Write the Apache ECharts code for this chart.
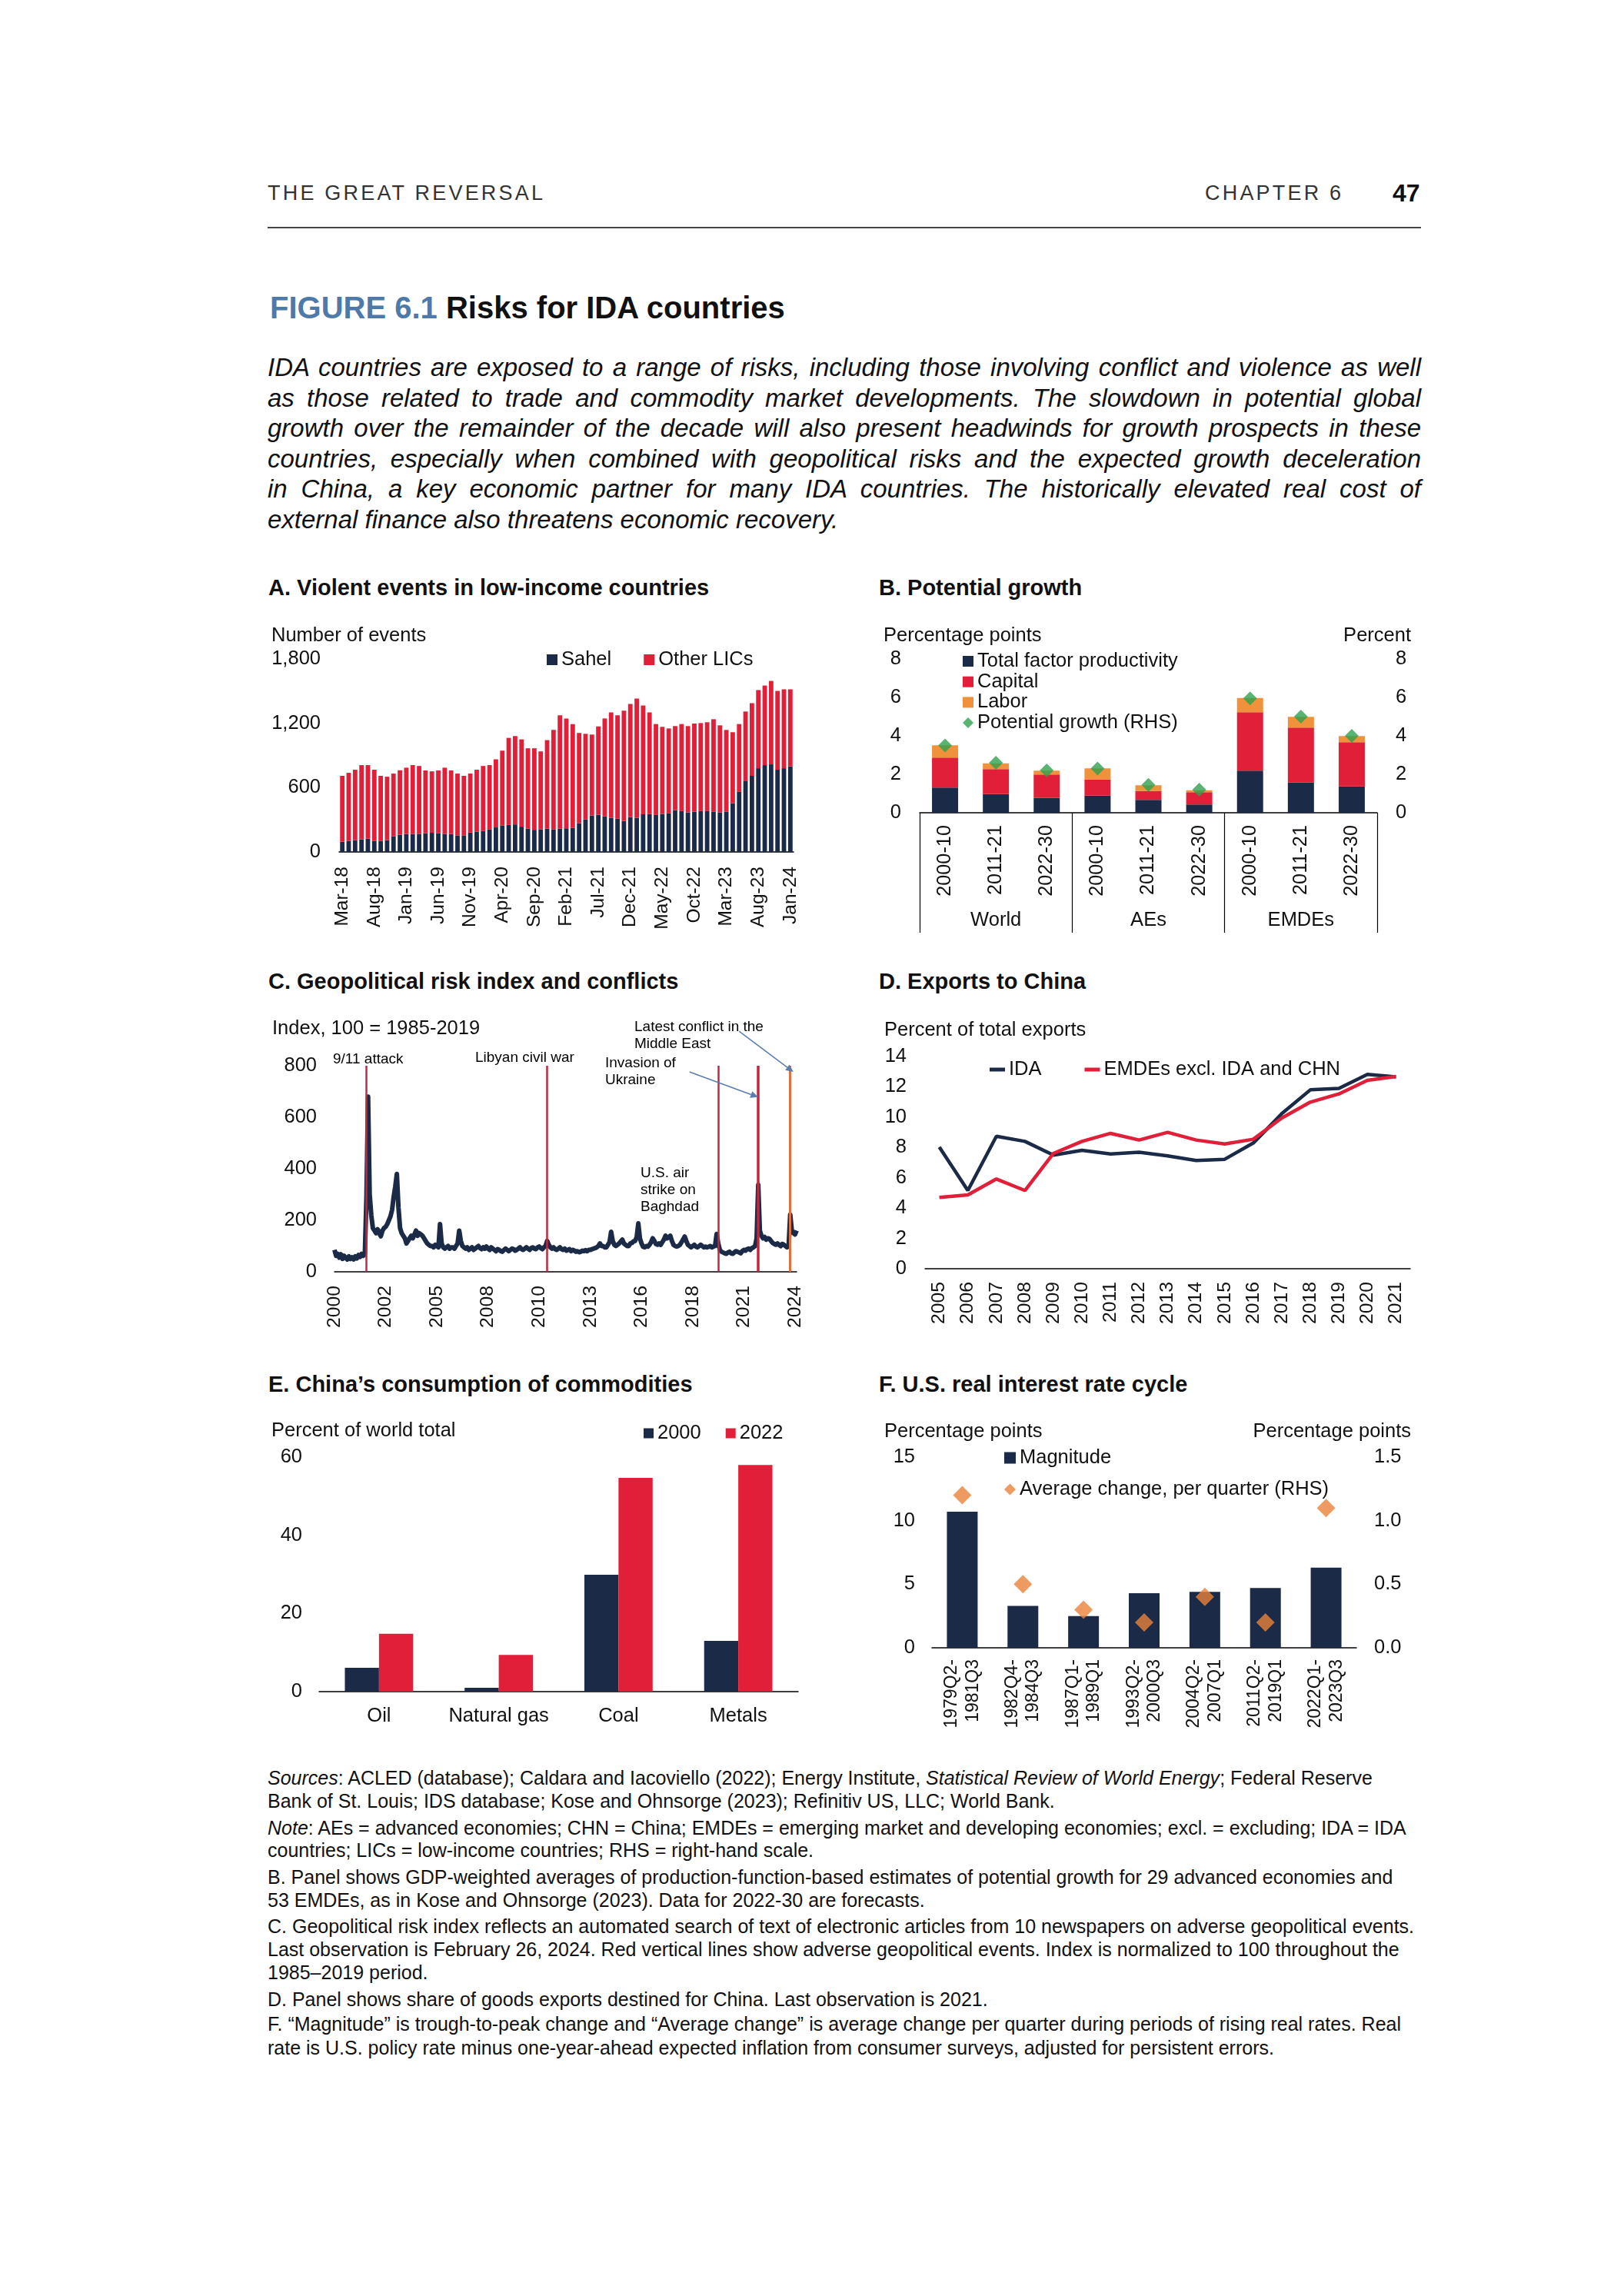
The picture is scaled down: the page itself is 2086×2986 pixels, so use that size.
<!DOCTYPE html>
<html><head><meta charset="utf-8">
<script src="https://cdn.jsdelivr.net/npm/echarts/dist/echarts.min.js"></script>
<style>
html,body{margin:0;padding:0;background:#fff;}
body{width:2086px;height:2986px;position:relative;overflow:hidden;font-family:'Liberation Sans',Arial,sans-serif;color:#111;}
.abs{position:absolute;white-space:nowrap;}
.hdr{font-size:27px;letter-spacing:3.2px;color:#333;line-height:30px;}
.ttl{font-size:40px;font-weight:bold;line-height:48px;}
.para{position:absolute;left:348px;top:458px;width:1500px;font-style:italic;font-size:33px;line-height:39.6px;color:#111;}
.para div{text-align:justify;text-align-last:justify;}
.para div.last{text-align-last:left;}
.ptitle{font-size:29px;font-weight:bold;line-height:34px;}
.note{font-size:25px;line-height:30px;color:#111;left:348px;}
.chart{position:absolute;}
</style></head><body>
<div class="abs hdr" style="left:348px;top:236px;">THE GREAT REVERSAL</div>
<div class="abs hdr" style="left:1567px;top:236px;">CHAPTER 6</div>
<div class="abs" style="left:1811px;top:235px;font-size:32px;font-weight:bold;line-height:32px;">47</div>
<div class="abs" style="left:348px;top:295px;width:1500px;height:2px;background:#444;"></div>
<div class="abs ttl" style="left:351px;top:376px;"><span style="color:#4D7AA8">FIGURE 6.1</span> Risks for IDA countries</div>
<div class="para">
<div>IDA countries are exposed to a range of risks, including those involving conflict and violence as well</div>
<div>as those related to trade and commodity market developments. The slowdown in potential global</div>
<div>growth over the remainder of the decade will also present headwinds for growth prospects in these</div>
<div>countries, especially when combined with geopolitical risks and the expected growth deceleration</div>
<div>in China, a key economic partner for many IDA countries. The historically elevated real cost of</div>
<div class="last">external finance also threatens economic recovery.</div>
</div>
<div class="abs ptitle" style="left:349px;top:747px;">A. Violent events in low-income countries</div>
<div class="abs ptitle" style="left:1143px;top:747px;">B. Potential growth</div>
<div class="abs ptitle" style="left:349px;top:1259px;">C. Geopolitical risk index and conflicts</div>
<div class="abs ptitle" style="left:1143px;top:1259px;">D. Exports to China</div>
<div class="abs ptitle" style="left:349px;top:1783px;">E. China’s consumption of commodities</div>
<div class="abs ptitle" style="left:1143px;top:1783px;">F. U.S. real interest rate cycle</div>

<div id="cA" class="chart" style="left:343px;top:800px;width:700px;height:430px;"></div>
<div id="cB" class="chart" style="left:1133px;top:800px;width:720px;height:430px;"></div>
<div id="cC" class="chart" style="left:343px;top:1300px;width:720px;height:440px;"></div>
<div id="cD" class="chart" style="left:1133px;top:1300px;width:720px;height:440px;"></div>
<div id="cE" class="chart" style="left:343px;top:1820px;width:720px;height:440px;"></div>
<div id="cF" class="chart" style="left:1133px;top:1820px;width:720px;height:440px;"></div>

<div class="abs note" style="top:2297px;"><i>Sources</i>: ACLED (database); Caldara and Iacoviello (2022); Energy Institute, <i>Statistical Review of World Energy</i>; Federal Reserve</div>
<div class="abs note" style="top:2327px;">Bank of St. Louis; IDS database; Kose and Ohnsorge (2023); Refinitiv US, LLC; World Bank.</div>
<div class="abs note" style="top:2362px;"><i>Note</i>: AEs = advanced economies; CHN = China; EMDEs = emerging market and developing economies; excl. = excluding; IDA = IDA</div>
<div class="abs note" style="top:2391px;">countries; LICs = low-income countries; RHS = right-hand scale.</div>
<div class="abs note" style="top:2426px;">B. Panel shows GDP-weighted averages of production-function-based estimates of potential growth for 29 advanced economies and</div>
<div class="abs note" style="top:2456px;">53 EMDEs, as in Kose and Ohnsorge (2023). Data for 2022-30 are forecasts.</div>
<div class="abs note" style="top:2490px;">C. Geopolitical risk index reflects an automated search of text of electronic articles from 10 newspapers on adverse geopolitical events.</div>
<div class="abs note" style="top:2520px;">Last observation is February 26, 2024. Red vertical lines show adverse geopolitical events. Index is normalized to 100 throughout the</div>
<div class="abs note" style="top:2550px;">1985–2019 period.</div>
<div class="abs note" style="top:2585px;">D. Panel shows share of goods exports destined for China. Last observation is 2021.</div>
<div class="abs note" style="top:2617px;">F. “Magnitude” is trough-to-peak change and “Average change” is average change per quarter during periods of rising real rates. Real</div>
<div class="abs note" style="top:2648px;">rate is U.S. policy rate minus one-year-ahead expected inflation from consumer surveys, adjusted for persistent errors.</div>

<script>
// ---------------- DATA ----------------
// Panel A
const monthsA = ['Mar-18','Apr-18','May-18','Jun-18','Jul-18','Aug-18','Sep-18','Oct-18','Nov-18','Dec-18',
 'Jan-19','Feb-19','Mar-19','Apr-19','May-19','Jun-19','Jul-19','Aug-19','Sep-19','Oct-19','Nov-19','Dec-19',
 'Jan-20','Feb-20','Mar-20','Apr-20','May-20','Jun-20','Jul-20','Aug-20','Sep-20','Oct-20','Nov-20','Dec-20',
 'Jan-21','Feb-21','Mar-21','Apr-21','May-21','Jun-21','Jul-21','Aug-21','Sep-21','Oct-21','Nov-21','Dec-21',
 'Jan-22','Feb-22','Mar-22','Apr-22','May-22','Jun-22','Jul-22','Aug-22','Sep-22','Oct-22','Nov-22','Dec-22',
 'Jan-23','Feb-23','Mar-23','Apr-23','May-23','Jun-23','Jul-23','Aug-23','Sep-23','Oct-23','Nov-23','Dec-23','Jan-24'];
const sahel = [95,102,110,117,124,102,102,110,145,160,167,167,169,174,179,174,169,167,155,155,
 181,188,195,212,229,245,252,257,236,217,207,212,217,212,217,221,224,269,305,340,
 348,333,319,310,288,326,319,352,355,345,355,360,390,381,369,376,381,381,374,369,
 374,455,560,660,710,781,810,817,767,781,798];
const otherLICs = [615,636,657,693,686,665,608,592,586,602,619,643,633,586,573,586,617,593,576,555,
 550,579,607,598,635,700,812,824,814,750,760,726,826,926,1057,1024,969,841,797,755,
 823,912,983,964,1029,1055,1112,1015,947,848,812,792,784,812,805,822,821,829,864,812,
 764,662,633,650,678,729,742,778,735,736,719];
const ticksA = [0, 600, 1200, 1800];

// Panel B
const periodsB = ['2000-10','2011-21','2022-30','2000-10','2011-21','2022-30','2000-10','2011-21','2022-30'];
const groupsB = ['World','AEs','EMDEs'];
const tfp = [1.31,0.97,0.77,0.89,0.67,0.43,2.19,1.57,1.37];
const capital = [1.56,1.30,1.22,0.84,0.46,0.64,3.04,2.86,2.30];
const labor = [0.64,0.30,0.20,0.58,0.30,0.10,0.74,0.56,0.32];
const potential = [3.5,2.6,2.2,2.3,1.45,1.2,5.95,5.0,4.0];

// Panel C (monthly, Jan 2000 - Feb 2024)
const monthsC = [];
for (let y = 2000; y <= 2024; y++) for (let m = 1; m <= 12; m++) { if (y === 2024 && m > 2) break; monthsC.push(y + '-' + String(m).padStart(2, '0')); }
const gpr = [85,62,70,55,68,50,62,55,48,60,50,56,48,60,52,65,58,70,62,72,
 290,680,300,220,170,160,150,165,150,138,160,170,175,185,200,
 215,240,290,330,380,250,170,
 150,140,130,110,120,130,140,130,145,
 160,140,150,145,140,130,120,110,105,100,100,95,105,100,95,
 185,110,
 95,90,95,100,90,95,95,90,100,110,
 160,120,
 100,95,90,95,85,90,95,85,90,95,100,92,88,95,90,98,
 90,85,95,90,85,80,88,85,80,78,85,90,85,80,85,90,88,82,85,90,95,88,85,90,95,90,85,92,95,90,88,95,98,92,88,95,100,
 120,
 105,95,90,95,88,85,90,95,88,85,90,82,85,88,80,85,
 82,78,80,76,78,82,80,84,80,85,85,88,90,92,95,100,
 110,100,100,95,95,105,115,155,120,105,100,105,110,118,125,110,105,100,100,110,112,118,120,135,
 188,130,110,
 97,95,100,98,105,115,130,120,108,105,110,105,115,125,140,130,135,140,120,105,100,98,100,105,115,125,137,120,105,100,95,100,105,98,95,100,105,100,95,98,95,97,100,95,98,100,
 147,110,
 85,78,75,72,70,75,78,72,70,75,80,78,75,72,80,85,82,
 88,90,85,92,95,100,
 130,337,160,140,
 130,135,125,130,128,120,
 112,108,105,110,105,100,108,105,100,95,100,
 222,160,150,145,160];
const events = [
 {date:'2001-09', name:'9/11 attack'},
 {date:'2011-02', name:'Libyan civil war'},
 {date:'2020-01', name:'U.S. air strike on Baghdad'},
 {date:'2022-02', name:'Invasion of Ukraine'},
 {date:'2023-10', name:'Latest conflict in the Middle East'}];
// annotation arrows: [from, to] in data space (month, index value)
const arrowsC = [[['2018-07',776],['2022-02',678]], [['2021-02',934],['2023-12',776]]];

// Panel D
const yearsD = ['2005','2006','2007','2008','2009','2010','2011','2012','2013','2014','2015','2016','2017','2018','2019','2020','2021'];
const idaExp = [8.03,5.16,8.74,8.40,7.49,7.81,7.57,7.68,7.44,7.14,7.22,8.29,10.23,11.80,11.89,12.82,12.65];
const emdeExp = [4.70,4.87,5.92,5.16,7.61,8.40,8.93,8.49,9.00,8.49,8.23,8.54,9.94,10.99,11.53,12.43,12.68];

// Panel E
const commodities = ['Oil','Natural gas','Coal','Metals'];
const share2000 = [6.1,1.0,29.9,13.0];
const share2022 = [14.8,9.4,54.7,58.0];

// Panel F
const cyclesF = ['1979Q2-\n1981Q3','1982Q4-\n1984Q3','1987Q1-\n1989Q1','1993Q2-\n2000Q3','2004Q2-\n2007Q1','2011Q2-\n2019Q1','2022Q1-\n2023Q3'];
const magnitude = [10.7,3.3,2.5,4.3,4.4,4.7,6.3];
const avgChange = [1.2,0.5,0.3,0.2,0.4,0.2,1.1];

// ---------------- STYLE ----------------
const FONT = "'Liberation Sans', Arial, sans-serif";
const NAVY = '#1B2A47', RED = '#E11F38', ORANGE = '#F0923B', GREEN = '#2FA04F', ORANGE2 = '#E9823A';
const TXT = '#111';
const FS = 25.5;
const axisLineBlack = {show:true, lineStyle:{color:'#000', width:1.5}};
function yAx(extra){ return Object.assign({type:'value', splitLine:{show:false}, axisLine:{show:false}, axisTick:{show:false},
  axisLabel:{fontSize:FS, color:TXT, fontFamily:FONT}}, extra); }
function txt(left, top, text, extra){ return Object.assign({type:'text', left:left, top:top, style:{text:text, fontSize:FS, fill:TXT, fontFamily:FONT}}, extra||{}); }
function mk(id, opt){ const c = echarts.init(document.getElementById(id), null, {renderer:'canvas'}); opt.animation = false; opt.textStyle = {fontFamily:FONT}; c.setOption(opt); return c; }

// ---------------- A ----------------
mk('cA', {
 grid:{left:98, top:57, width:591, height:251, outerBoundsMode:'none'},
 legend:{left:363, top:40, itemWidth:14, itemHeight:14, itemGap:42, textStyle:{fontSize:FS, color:TXT},
   data:[{name:'Sahel', icon:'rect'},{name:'Other LICs', icon:'rect'}]},
 xAxis:{type:'category', data:monthsA, axisLine:axisLineBlack, axisTick:{show:false},
   axisLabel:{rotate:90, interval:4, margin:19, fontSize:24.5, color:TXT}},
 yAxis:yAx({min:ticksA[0], max:ticksA[ticksA.length-1], interval:600,
   axisLabel:{fontSize:FS, color:TXT, margin:24, formatter:v=>String(v).replace(/\B(?=(\d{3})+(?!\d))/g, ',')}}),
 series:[
  {name:'Sahel', type:'bar', stack:'a', data:sahel, barWidth:'70%', itemStyle:{color:NAVY}},
  {name:'Other LICs', type:'bar', stack:'a', data:otherLICs, itemStyle:{color:RED}}],
 graphic:[txt(10, 14, 'Number of events')]
});

// ---------------- B ----------------
mk('cB', {
 grid:{left:63, top:57, width:595, height:200, outerBoundsMode:'none'},
 legend:{orient:'vertical', left:114, top:42, itemWidth:14, itemHeight:14, itemGap:0.7,
   textStyle:{fontSize:FS, color:TXT, lineHeight:26},
   data:[{name:'Total factor productivity', icon:'rect'},{name:'Capital', icon:'rect'},{name:'Labor', icon:'rect'},{name:'Potential growth (RHS)', icon:'diamond'}]},
 xAxis:[
  {type:'category', data:periodsB, position:'bottom', axisLine:axisLineBlack, axisTick:{show:false},
   axisLabel:{rotate:90, interval:0, margin:16, fontSize:25.3, color:TXT}},
  {type:'category', data:groupsB, position:'bottom', axisLine:{show:false},
   axisTick:{show:true, length:156, lineStyle:{color:'#000', width:1.2}},
   axisLabel:{interval:0, margin:127, fontSize:FS, color:TXT}}],
 yAxis:[yAx({min:0, max:8, interval:2, position:'left', axisLabel:{fontSize:FS, color:TXT, margin:24}}),
        yAx({min:0, max:8, interval:2, position:'right', axisLabel:{fontSize:FS, color:TXT, margin:24}})],
 series:[
  {name:'Total factor productivity', type:'bar', stack:'b', data:tfp, barWidth:34, itemStyle:{color:NAVY}},
  {name:'Capital', type:'bar', stack:'b', data:capital, itemStyle:{color:RED}},
  {name:'Labor', type:'bar', stack:'b', data:labor, itemStyle:{color:ORANGE}},
  {name:'Potential growth (RHS)', type:'scatter', yAxisIndex:1, data:potential, symbol:'diamond', symbolSize:18, itemStyle:{color:GREEN}, z:5}],
 graphic:[txt(16, 14, 'Percentage points'), txt(null, 14, 'Percent', {right:18})]
});

// ---------------- C ----------------
const evColors = ['#C0283E','#C0283E','#C0283E','#C0283E','#E0703C'];
const evWidths = [2.5,2.5,2.5,3.5,3];
const annFont = {fontSize:19, lineHeight:22, fill:'#000', fontFamily:FONT};
const chartC = mk('cC', {
 grid:{left:92, top:86, width:601, height:268, outerBoundsMode:'none'},
 xAxis:{type:'category', data:monthsC, boundaryGap:false, axisLine:axisLineBlack, axisTick:{show:false},
   axisLabel:{rotate:90, interval:31, margin:18, fontSize:24.7, color:TXT, formatter:v=>v.slice(0,4)}},
 yAxis:yAx({min:0, max:800, interval:200, axisLabel:{fontSize:FS, color:TXT, margin:23}}),
 series:[
  {type:'line', data:gpr, symbol:'none', lineStyle:{color:NAVY, width:6, join:'round'}, itemStyle:{color:NAVY}, z:3,
   markLine:{silent:true, symbol:['none','none'], label:{show:false}, animation:false,
     data: events.map((e,i)=>({xAxis:e.date, lineStyle:{color:evColors[i], width:evWidths[i], type:'solid'}}))}}]
});
// annotations + arrows positioned through the chart's own scales
(function(){
  const els = [
    txt(11, 25, 'Index, 100 = 1985-2019'),
    {type:'text', left:90, top:67, style:Object.assign({text:'9/11 attack'}, annFont)},
    {type:'text', left:275, top:65, style:Object.assign({text:'Libyan civil war'}, annFont)},
    {type:'text', left:482, top:25, style:Object.assign({text:'Latest conflict in the\nMiddle East'}, annFont)},
    {type:'text', left:444, top:72, style:Object.assign({text:'Invasion of\nUkraine'}, annFont)},
    {type:'text', left:490, top:215, style:Object.assign({text:'U.S. air\nstrike on\nBaghdad'}, annFont)}];
  arrowsC.forEach(function(a){
    const p1 = chartC.convertToPixel({gridIndex:0}, a[0]);
    const p2 = chartC.convertToPixel({gridIndex:0}, a[1]);
    const dx = p2[0]-p1[0], dy = p2[1]-p1[1], L = Math.sqrt(dx*dx+dy*dy), ux = dx/L, uy = dy/L;
    const hl = 10, hw = 4.5;
    const bx = p2[0]-ux*hl, by = p2[1]-uy*hl;
    els.push({type:'line', shape:{x1:p1[0], y1:p1[1], x2:bx, y2:by}, style:{stroke:'#5B7DB1', lineWidth:1.6}, z:10});
    els.push({type:'polygon', shape:{points:[[p2[0],p2[1]],[bx-uy*hw, by+ux*hw],[bx+uy*hw, by-ux*hw]]}, style:{fill:'#5B7DB1'}, z:10});
  });
  chartC.setOption({graphic: els});
})();

// ---------------- D ----------------
mk('cD', {
 grid:{left:70, top:74, width:631, height:276, outerBoundsMode:'none'},
 legend:{left:149, top:73, itemWidth:20, itemHeight:5, itemGap:56, textStyle:{fontSize:FS, color:TXT},
   data:[{name:'IDA', icon:'rect'},{name:'EMDEs excl. IDA and CHN', icon:'rect'}]},
 xAxis:{type:'category', data:yearsD, axisLine:axisLineBlack, axisTick:{show:false},
   axisLabel:{rotate:90, interval:0, margin:17, fontSize:24.7, color:TXT}},
 yAxis:yAx({min:0, max:14, interval:2, axisLabel:{fontSize:FS, color:TXT, margin:24}}),
 series:[
  {name:'IDA', type:'line', data:idaExp, symbol:'none', lineStyle:{color:NAVY, width:4.5}, itemStyle:{color:NAVY}},
  {name:'EMDEs excl. IDA and CHN', type:'line', data:emdeExp, symbol:'none', lineStyle:{color:RED, width:4.5}, itemStyle:{color:RED}}],
 graphic:[txt(17, 27, 'Percent of total exports')]
});

// ---------------- E ----------------
mk('cE', {
 grid:{left:72, top:75, width:623, height:305, outerBoundsMode:'none'},
 legend:{left:489, top:26, itemWidth:13, itemHeight:13, itemGap:32, textStyle:{fontSize:FS, color:TXT},
   data:[{name:'2000', icon:'rect'},{name:'2022', icon:'rect'}]},
 xAxis:{type:'category', data:commodities, axisLine:axisLineBlack, axisTick:{show:false},
   axisLabel:{interval:0, margin:19, fontSize:FS, color:TXT}},
 yAxis:yAx({min:0, max:60, interval:20, axisLabel:{fontSize:FS, color:TXT, margin:22}}),
 series:[
  {name:'2000', type:'bar', data:share2000, barGap:'0%', barCategoryGap:'43%', itemStyle:{color:NAVY}},
  {name:'2022', type:'bar', data:share2022, itemStyle:{color:RED}}],
 graphic:[txt(10, 28, 'Percent of world total')]
});

// ---------------- F ----------------
mk('cF', {
 grid:{left:79, top:75, width:552, height:248, outerBoundsMode:'none'},
 legend:{orient:'vertical', left:168, top:58, itemWidth:15, itemHeight:15, itemGap:15,
   textStyle:{fontSize:FS, color:TXT, lineHeight:26},
   data:[{name:'Magnitude', icon:'rect'},{name:'Average change, per quarter (RHS)', icon:'diamond'}]},
 xAxis:{type:'category', data:cyclesF, axisLine:axisLineBlack, axisTick:{show:false},
   axisLabel:{rotate:90, interval:0, margin:15, fontSize:23, lineHeight:27.5, color:TXT}},
 yAxis:[yAx({min:0, max:15, interval:5, position:'left', axisLabel:{fontSize:FS, color:TXT, margin:22}}),
        yAx({min:0, max:1.5, interval:0.5, position:'right', axisLabel:{fontSize:FS, color:TXT, margin:23, formatter:v=>v.toFixed(1)}})],
 series:[
  {name:'Magnitude', type:'bar', data:magnitude, barWidth:40, itemStyle:{color:NAVY}},
  {name:'Average change, per quarter (RHS)', type:'scatter', yAxisIndex:1, data:avgChange, symbol:'diamond', symbolSize:24, itemStyle:{color:ORANGE2}, z:5}],
 graphic:[txt(17, 29, 'Percentage points'), txt(null, 29, 'Percentage points', {right:18})]
});
</script>
</body></html>
